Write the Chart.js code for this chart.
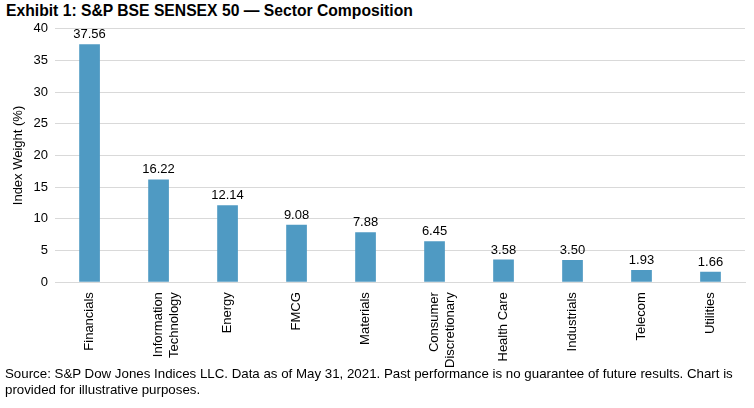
<!DOCTYPE html>
<html>
<head>
<meta charset="utf-8">
<script src="https://cdn.jsdelivr.net/npm/chart.js@4/dist/chart.umd.min.js"></script>
<style>
  body { margin: 0; background: #fff; font-family: "Liberation Sans", Arial, sans-serif; }
  #wrap { position: relative; width: 754px; height: 408px; }
  #title { position: absolute; left: 6px; top: 2px; font-size: 15.7px; font-weight: bold; color: #000; }
  #box { position: absolute; left: 0; top: 14px; width: 754px; height: 356px; }
  #note { position: absolute; left: 5px; top: 366px; font-size: 13.3px; line-height: 16px; color: #000; }
</style>
</head>
<body>
<div id="wrap">
  <div id="title">Exhibit 1: S&amp;P BSE SENSEX 50 — Sector Composition</div>
  <div id="box"><canvas id="chart"></canvas></div>
  <div id="note">Source: S&amp;P Dow Jones Indices LLC. Data as of May 31, 2021. Past performance is no guarantee of future results. Chart is<br>provided for illustrative purposes.</div>
</div>
<script>
const sectors = ["Financials", ["Information", "Technology"], "Energy", "FMCG", "Materials",
  ["Consumer", "Discretionary"], "Health Care", "Industrials", "Telecom", "Utilities"];
const weights = [37.56, 16.22, 12.14, 9.08, 7.88, 6.45, 3.58, 3.50, 1.93, 1.66];
const yTicks = [0, 5, 10, 15, 20, 25, 30, 35, 40];
const FONT = "'Liberation Sans', Arial, sans-serif";

// labels above each bar
const barValues = {
  id: "barValues",
  afterDatasetsDraw(chart) {
    const ctx = chart.ctx;
    const meta = chart.getDatasetMeta(0);
    ctx.save();
    ctx.font = "13px " + FONT;
    ctx.fillStyle = "#000";
    ctx.textAlign = "center";
    ctx.textBaseline = "bottom";
    meta.data.forEach((bar, i) => {
      ctx.fillText(weights[i].toFixed(2), bar.x, bar.y - 3);
    });
    ctx.restore();
  }
};

new Chart(document.getElementById("chart"), {
  type: "bar",
  data: {
    labels: sectors,
    datasets: [{
      data: weights,
      backgroundColor: "#4F9AC3",
      categoryPercentage: 1,
      barPercentage: 0.3
    }]
  },
  options: {
    responsive: true,
    maintainAspectRatio: false,
    animation: false,
    layout: { padding: { left: 11, right: 9, top: 10, bottom: 0 } },
    plugins: { legend: { display: false }, tooltip: { enabled: false } },
    scales: {
      x: {
        grid: { display: false },
        border: { color: "#D9D9D9" },
        ticks: {
          color: "#000",
          padding: 2,
          font: { family: FONT, size: 13 },
          maxRotation: 90,
          minRotation: 90,
          autoSkip: false
        }
      },
      y: {
        min: 0,
        max: 40,
        afterBuildTicks(axis) { axis.ticks = yTicks.map(v => ({ value: v })); },
        grid: { color: "#D9D9D9", drawTicks: false },
        border: { display: false },
        ticks: {
          color: "#000",
          padding: 7,
          font: { family: FONT, size: 13 }
        },
        title: {
          display: true,
          text: "Index Weight (%)",
          color: "#000",
          padding: { top: 0, bottom: 0 },
          font: { family: FONT, size: 13 }
        }
      }
    }
  },
  plugins: [barValues]
});
</script>
</body>
</html>
